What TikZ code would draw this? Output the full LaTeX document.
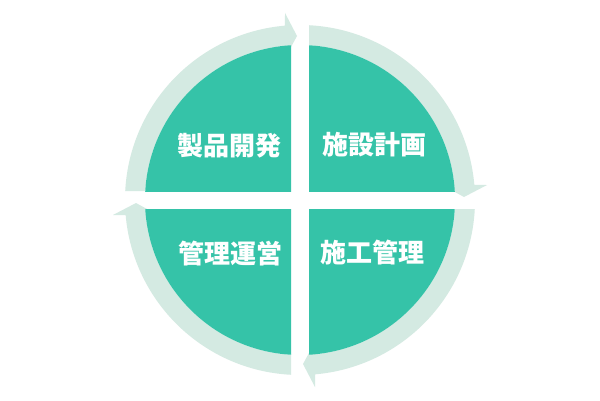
\documentclass[tikz,border=0pt]{standalone}
\usepackage{fontspec}
\newfontfamily\cjk{Noto Sans CJK JP}
\definecolor{tealq}{RGB}{53,195,168}
\definecolor{ringc}{RGB}{212,234,226}
\tikzset{
  quad/.style={fill=tealq},
  ringseg/.style={fill=ringc},
  lbl/.style={text=white,font=\cjk\bfseries\fontsize{26}{26}\selectfont,inner sep=0pt}
}
\begin{document}
\begin{tikzpicture}[x=1pt,y=1pt]
\useasboundingbox (0,0) rectangle (600,400);
\fill[white] (0,0) rectangle (600,400);
\foreach \r in {0,-90,-180,-270}{
  \begin{scope}[shift={(300,200)},rotate=\r]
    \fill[ringseg] (9,154.74) -- (9,174.77)
      arc[start angle=87.05,end angle=4.92,radius=175]
      -- (187,15) -- (164,3) -- (142,15) -- (154.27,15)
      arc[start angle=5.55,end angle=86.67,radius=155] -- cycle;
    \begin{scope}
      \clip (9,9) rectangle (200,200);
      \fill[quad] (0,0) circle[radius=155];
    \end{scope}
  \end{scope}
}
\node[lbl] (dev) at (229,254) {製品開発};
\node[lbl] (plan) at (374,255) {施設計画};
\node[lbl] (ops) at (230,146) {管理運営};
\node[lbl] (cons) at (372,147) {施工管理};
\end{tikzpicture}
\end{document}
